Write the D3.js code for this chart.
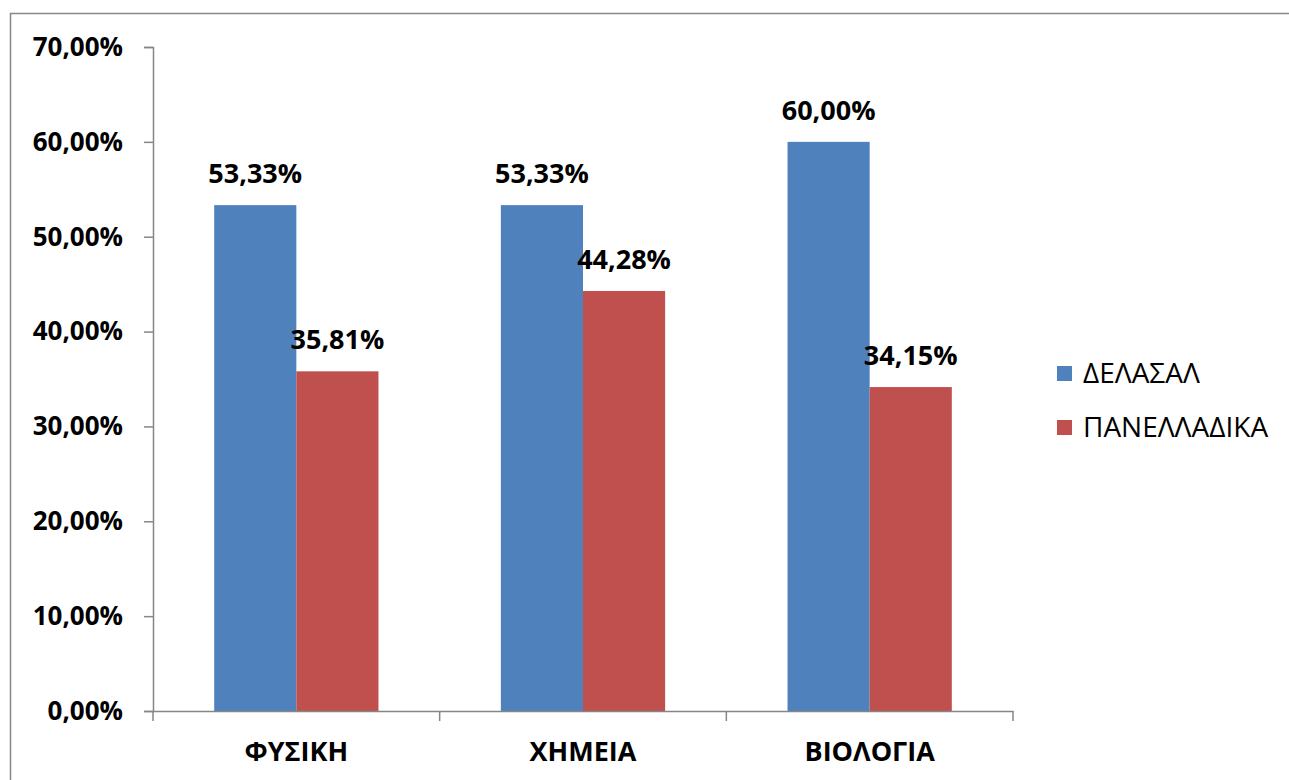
<!DOCTYPE html>
<html>
<head>
  <meta charset="UTF-8">
  <style>
    body { margin: 0; background-color: white; }
    svg { display: block; }
    text { font-family: "Open Sans", "Noto Sans", sans-serif; }
  </style>
</head>
<body>
<svg></svg>
<script src="https://d3js.org/d3.v7.min.js"></script>
<script>

let width = 1289, height = 780;

// data
const categories = ["ΦΥΣΙΚΗ", "ΧΗΜΕΙΑ", "ΒΙΟΛΟΓΙΑ"];
const seriesNames = ["ΔΕΛΑΣΑΛ", "ΠΑΝΕΛΛΑΔΙΚΑ"];
const delasal = [53.33, 53.33, 60.00];
const panelladika = [35.81, 44.28, 34.15];
const yTicks = [0, 10, 20, 30, 40, 50, 60, 70];
const colors = ["#4f81bd", "#c0504d"];

let svg = d3.select("svg")
    .attr("width", width)
    .attr("height", height);

// outer frame
svg.append("rect")
    .attr("x", 10.5).attr("y", 13.5)
    .attr("width", 1300).attr("height", 800)
    .attr("fill", "none")
    .attr("stroke", "#878787")
    .attr("stroke-width", 1.5);

let x0 = 153, x1 = 1013, yTop = 47, yBot = 711;

let x = d3.scaleBand()
    .domain(categories)
    .range([x0, x1]);

let xSeries = d3.scaleBand()
    .domain(seriesNames)
    .range([0, x.bandwidth()])
    .paddingOuter(0.745);

let y = d3.scaleLinear()
    .domain([0, 70])
    .range([yBot, yTop]);

let fmt = v => d3.format(".2f")(v).replace(".", ",") + "%";

// y axis
let yAxis = svg.append("g")
    .attr("transform", "translate(" + x0 + ",0)")
    .call(d3.axisLeft(y).tickValues(yTicks).tickSize(9).tickPadding(21).tickFormat(fmt));
yAxis.select(".domain").attr("stroke", "#868686").attr("stroke-width", 1.5);
yAxis.selectAll(".tick line").attr("stroke", "#868686").attr("stroke-width", 1.5);
yAxis.selectAll(".tick text")
    .attr("fill", "#000")
    .style("font-size", "26px")
    .style("font-weight", "bold");

// bars
let rows = categories.map((c, i) => ({ cat: c, values: [delasal[i], panelladika[i]] }));

let groups = svg.append("g").selectAll("g")
    .data(rows)
    .enter().append("g")
    .attr("transform", d => "translate(" + x(d.cat) + ",0)");

groups.selectAll("rect")
    .data(d => d.values.map((v, j) => ({ name: seriesNames[j], value: v, j: j })))
    .enter().append("rect")
    .attr("x", d => xSeries(d.name))
    .attr("y", d => y(d.value))
    .attr("width", xSeries.bandwidth())
    .attr("height", d => yBot - y(d.value))
    .attr("fill", d => colors[d.j]);

groups.selectAll("text.lbl")
    .data(d => d.values.map((v, j) => ({ name: seriesNames[j], value: v, j: j })))
    .enter().append("text")
    .attr("class", "lbl")
    .attr("x", d => xSeries(d.name) + xSeries.bandwidth() / 2)
    .attr("y", d => y(d.value) - 22)
    .attr("text-anchor", "middle")
    .style("font-size", "27px")
    .style("font-weight", "bold")
    .text(d => fmt(d.value));

// x axis
let xAxis = svg.append("g")
    .attr("transform", "translate(0," + yBot + ")")
    .call(d3.axisBottom(x).tickSize(0).tickPadding(31));
xAxis.select(".domain").attr("stroke", "#868686").attr("stroke-width", 1.5);
xAxis.selectAll(".tick text")
    .attr("fill", "#000")
    .style("font-size", "27px")
    .style("font-weight", "bold");
xAxis.selectAll("line.sep")
    .data([x0, x1].concat(categories.slice(1).map(c => x(c))))
    .enter().append("line")
    .attr("class", "sep")
    .attr("x1", d => d).attr("x2", d => d)
    .attr("y1", 0).attr("y2", 10)
    .attr("stroke", "#868686")
    .attr("stroke-width", 1.5);

// legend
let legend = svg.append("g")
    .attr("transform", "translate(1057,366)");
let items = legend.selectAll("g")
    .data(seriesNames)
    .enter().append("g")
    .attr("transform", (d, i) => "translate(0," + (i * 54) + ")");
items.append("rect")
    .attr("width", 15).attr("height", 15)
    .attr("fill", (d, i) => colors[i]);
items.append("text")
    .attr("x", 26).attr("y", 17)
    .style("font-size", "28px")
    .text(d => d);

</script>
</body>
</html>
